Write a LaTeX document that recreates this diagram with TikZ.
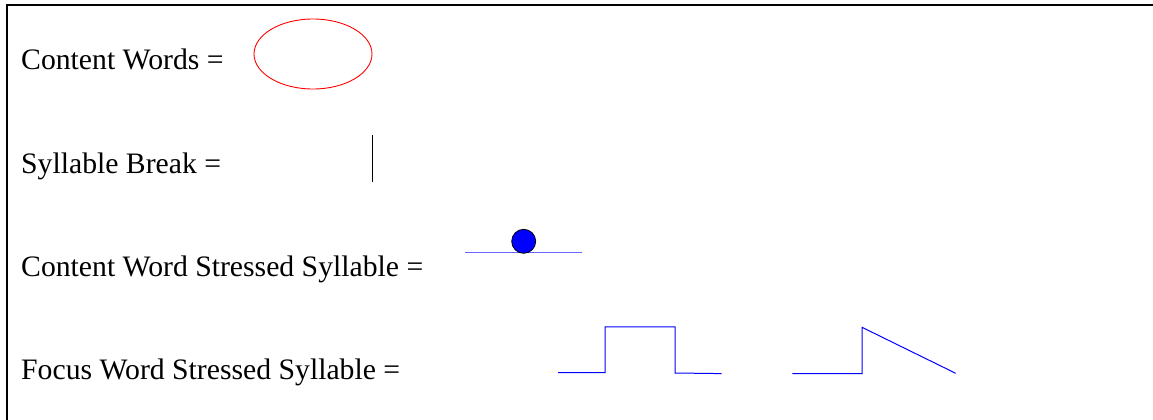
\documentclass[tikz,border=0pt]{standalone}
\usepackage{fontspec}
\setmainfont{Liberation Serif}
\usetikzlibrary{shapes.geometric}
\begin{document}
\begin{tikzpicture}[x=1pt,y=-1pt,
  lbl/.style={anchor=base west,inner sep=0pt,font=\fontsize{29.7}{36}\selectfont},
  frame/.style={line width=1.7pt,black},
  bluel/.style={blue,line width=1pt},
]
\useasboundingbox (0,0) rectangle (1153,420);
\draw[frame] (1160,5) -- (6.7,5) -- (6.7,430);
\node[lbl] (cw) at (21,70) {Content Words =};
\node[lbl] (sb) at (21,173) {Syllable Break =};
\node[lbl] (cws) at (21,276) {Content Word Stressed Syllable =};
\node[lbl] (fws) at (21,379) {Focus Word Stressed Syllable =};
% content word ellipse
\node[draw=red,line width=0.9pt,ellipse,minimum width=118pt,minimum height=70pt,inner sep=0pt] (ell) at (313,54) {};
% syllable break
\draw[black,line width=1pt] (372,135) -- (372,182);
% content word stressed syllable
\draw[blue!60,line width=1pt] (465,252.7) -- (582,252.7);
\node[circle,draw=black,fill=blue,line width=0.8pt,minimum size=24pt,inner sep=0pt] (dot) at (523.7,241.3) {};
% focus word stressed syllable
\draw[bluel] (558,372.5) -- (605,372.5) -- (605,326.8) -- (675,326.8) -- (675,373) -- (721.7,373.6);
\draw[bluel] (792.3,373.7) -- (862,373.7) -- (862,327.3) -- (955.7,373.3);
\end{tikzpicture}
\end{document}
